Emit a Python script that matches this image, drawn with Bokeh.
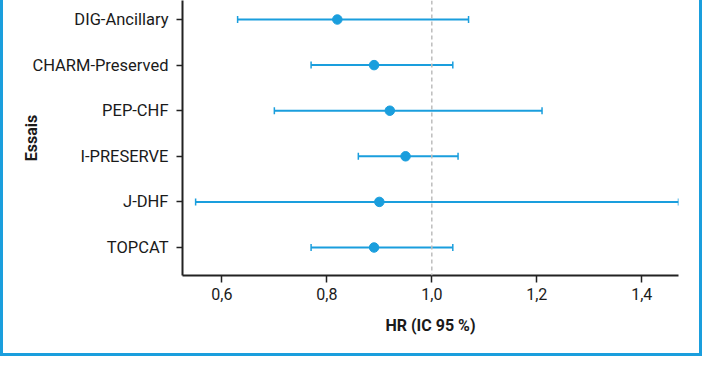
from bokeh.plotting import figure
from bokeh.models import Range1d, FixedTicker, CustomJSTickFormatter, Span, Whisker, ColumnDataSource, TeeHead
from bokeh.embed import file_html
from bokeh.resources import INLINE

trials = ["DIG-Ancillary", "CHARM-Preserved", "PEP-CHF", "I-PRESERVE", "J-DHF", "TOPCAT"]
hr = [0.82, 0.89, 0.92, 0.95, 0.90, 0.89]
ci_low = [0.63, 0.77, 0.70, 0.86, 0.55, 0.77]
ci_high = [1.07, 1.04, 1.21, 1.05, 1.47, 1.04]
x_ticks = [0.6, 0.8, 1.0, 1.2, 1.4]
x_label = "HR (IC 95 %)"
y_label = "Essais"

BLUE = "#1a9edd"
FONT = "Roboto"

n = len(trials)
ypos = [n - 1 - i for i in range(n)]
src = ColumnDataSource(dict(y=ypos, hr=hr, lo=ci_low, hi=ci_high, name=trials))

p = figure(width=702, height=356, output_backend="svg", toolbar_location=None,
           x_range=Range1d(0.525, 1.47), y_range=Range1d(-0.614, n - 1 + 0.417),
           min_border_left=179, min_border_right=27, min_border_top=0, min_border_bottom=81)
p.styles = {"border-left": f"3px solid {BLUE}", "border-right": f"3px solid {BLUE}",
            "border-bottom": f"3px solid {BLUE}", "box-sizing": "border-box"}
p.outline_line_color = None
p.grid.visible = False

p.add_layout(Span(location=1.0, dimension="height", line_color="#bdbdbd",
                  line_width=1.5, line_dash="4 3"))

w = Whisker(source=src, base="y", lower="lo", upper="hi", dimension="width",
            line_color=BLUE, line_width=2,
            lower_head=TeeHead(size=7, line_color=BLUE, line_width=1.5),
            upper_head=TeeHead(size=7, line_color=BLUE, line_width=1.5))
p.add_layout(w)
p.scatter("hr", "y", source=src, size=9.5, color=BLUE)

p.xaxis.ticker = FixedTicker(ticks=x_ticks)
p.xaxis.formatter = CustomJSTickFormatter(code="return tick.toFixed(1).replace('.', ',');")
p.yaxis.ticker = FixedTicker(ticks=ypos)
p.yaxis.major_label_overrides = {yv: t for yv, t in zip(ypos, trials)}

for ax in (p.xaxis[0], p.yaxis[0]):
    ax.axis_line_color = "#222222"
    ax.axis_line_width = 2
    ax.major_tick_line_color = "#222222"
    ax.major_tick_line_width = 1.5
    ax.major_tick_in = 0
    ax.minor_tick_line_color = None
    ax.major_label_text_font = FONT
    ax.major_label_text_font_size = "16px"
    ax.major_label_text_color = "#1a1a1a"
    ax.axis_label_text_font = FONT
    ax.axis_label_text_font_size = "16px"
    ax.axis_label_text_font_style = "bold"
    ax.axis_label_text_color = "#1a1a1a"

p.yaxis.major_label_text_font_size = "16.5px"
p.xaxis.major_tick_out = 7
p.yaxis.major_tick_out = 6
p.yaxis.major_label_standoff = 8
p.xaxis.axis_label = x_label
p.yaxis.axis_label = y_label
p.xaxis.axis_label_standoff = 13
p.yaxis.axis_label_standoff = -12

open("out.html", "w").write(file_html(p, INLINE))
